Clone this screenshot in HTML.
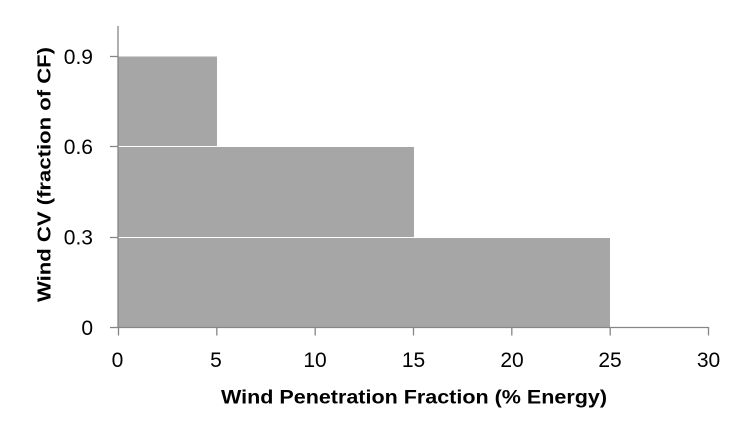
<!DOCTYPE html>
<html>
<head>
<meta charset="utf-8">
<style>
html,body{margin:0;padding:0;background:#fff;}
svg{display:block;}
text{font-family:"Liberation Sans",Arial,sans-serif;fill:#000;}
</style>
</head>
<body>
<svg width="745" height="438" viewBox="0 0 745 438" xmlns="http://www.w3.org/2000/svg">
  <rect x="0" y="0" width="745" height="438" fill="#fff"/>
  <!-- bars -->
  <rect x="118" y="238" width="492" height="89" fill="#a6a6a6"/>
  <rect x="118" y="147" width="296" height="90" fill="#a6a6a6"/>
  <rect x="118" y="56.5" width="99" height="89.5" fill="#a6a6a6"/>
  <!-- axes -->
  <g stroke="#868686" stroke-width="1.3" fill="none">
    <line x1="118" y1="26" x2="118" y2="327.5"/>
    <line x1="118" y1="327.5" x2="708.5" y2="327.5"/>
    <!-- y ticks -->
    <line x1="110" y1="327.5" x2="118" y2="327.5"/>
    <line x1="110" y1="237.5" x2="118" y2="237.5"/>
    <line x1="110" y1="146.5" x2="118" y2="146.5"/>
    <line x1="110" y1="56.5" x2="118" y2="56.5"/>
    <!-- x ticks -->
    <line x1="118.5" y1="327" x2="118.5" y2="335.5"/>
    <line x1="216.8" y1="327" x2="216.8" y2="335.5"/>
    <line x1="315.2" y1="327" x2="315.2" y2="335.5"/>
    <line x1="413.5" y1="327" x2="413.5" y2="335.5"/>
    <line x1="511.8" y1="327" x2="511.8" y2="335.5"/>
    <line x1="610.2" y1="327" x2="610.2" y2="335.5"/>
    <line x1="708.5" y1="327" x2="708.5" y2="335.5"/>
  </g>
  <!-- y labels -->
  <g font-size="21" text-anchor="end">
    <text x="93" y="335">0</text>
    <text x="93" y="244.5">0.3</text>
    <text x="93" y="154">0.6</text>
    <text x="93" y="64">0.9</text>
  </g>
  <!-- x labels -->
  <g font-size="21" text-anchor="middle">
    <text x="117.5" y="367">0</text>
    <text x="216" y="367">5</text>
    <text x="315" y="367">10</text>
    <text x="413.5" y="367">15</text>
    <text x="512" y="367">20</text>
    <text x="610" y="367">25</text>
    <text x="708.5" y="367">30</text>
  </g>
  <!-- axis titles -->
  <text x="221" y="403.5" font-size="19" font-weight="bold" textLength="386" lengthAdjust="spacingAndGlyphs">Wind Penetration Fraction (% Energy)</text>
  <text transform="translate(50.5,302) rotate(-90)" x="0" y="0" font-size="18.5" font-weight="bold" textLength="255" lengthAdjust="spacingAndGlyphs">Wind CV (fraction of CF)</text>
</svg>
</body>
</html>
